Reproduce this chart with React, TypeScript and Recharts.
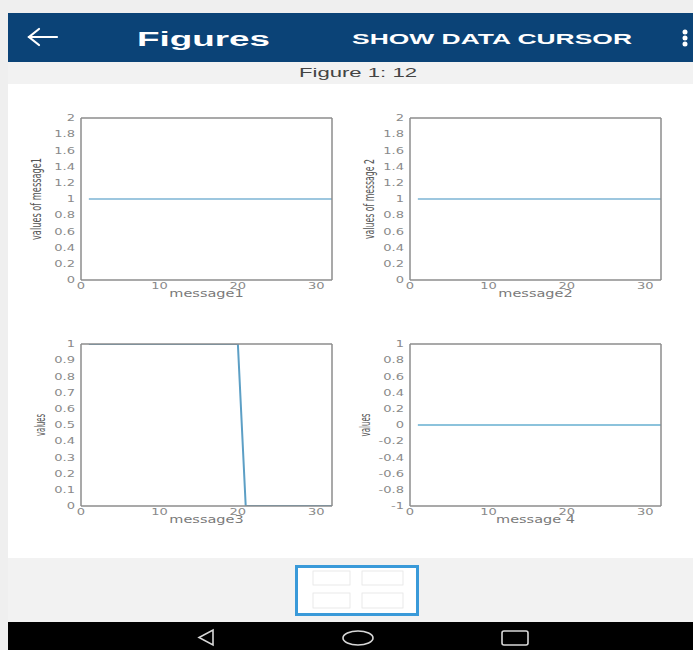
import React from "react";
import { LineChart, Line, XAxis, YAxis } from "recharts";

// sample index (x axis of every subplot)
const samples = [1, 2, 3, 4, 5, 6, 7, 8, 9, 10, 11, 12, 13, 14, 15, 16, 17, 18, 19, 20, 21, 22, 23, 24, 25, 26, 27, 28, 29, 30, 31, 32];

const message1 = [1, 1, 1, 1, 1, 1, 1, 1, 1, 1, 1, 1, 1, 1, 1, 1, 1, 1, 1, 1, 1, 1, 1, 1, 1, 1, 1, 1, 1, 1, 1, 1];
const message2 = [1, 1, 1, 1, 1, 1, 1, 1, 1, 1, 1, 1, 1, 1, 1, 1, 1, 1, 1, 1, 1, 1, 1, 1, 1, 1, 1, 1, 1, 1, 1, 1];
const message3 = [1, 1, 1, 1, 1, 1, 1, 1, 1, 1, 1, 1, 1, 1, 1, 1, 1, 1, 1, 1, 0, 0, 0, 0, 0, 0, 0, 0, 0, 0, 0, 0];
const message4 = [0, 0, 0, 0, 0, 0, 0, 0, 0, 0, 0, 0, 0, 0, 0, 0, 0, 0, 0, 0, 0, 0, 0, 0, 0, 0, 0, 0, 0, 0, 0, 0];

const xTicks = [0, 10, 20, 30];
const ticks0to2 = [0, 0.2, 0.4, 0.6, 0.8, 1, 1.2, 1.4, 1.6, 1.8, 2];
const ticks0to1 = [0, 0.1, 0.2, 0.3, 0.4, 0.5, 0.6, 0.7, 0.8, 0.9, 1];
const ticksMinus1to1 = [-1, -0.8, -0.6, -0.4, -0.2, 0, 0.2, 0.4, 0.6, 0.8, 1];

const PLOT_W = 251;
const PLOT_H = 162;
const AXIS = "#8c8c8c";
const TICK_TEXT = "#8a8a8a";
const FONT = "DejaVu Sans";

function XTick(props: any) {
  const { x, y, payload } = props;
  return (
    <text transform={`translate(${x},${y}) scale(1.45,1)`} textAnchor="middle" dy="0.71em" fontSize={9} fill={TICK_TEXT} fontFamily={FONT}>
      {payload.value}
    </text>
  );
}

function YTick(props: any) {
  const { x, y, payload } = props;
  return (
    <text transform={`translate(${x},${y}) scale(1.45,1)`} textAnchor="end" dy="0.35em" fontSize={9} fill={TICK_TEXT} fontFamily={FONT}>
      {payload.value}
    </text>
  );
}

interface SubplotProps {
  values: number[];
  left: number;
  top: number;
  yDomain: [number, number];
  yTicks: number[];
  yLabel: string;
  yLabelLen: number;
  yLabelX: number;
  xLabel: string;
  color: string;
  lineWidth: number;
}

function Subplot({ values, left, top, yDomain, yTicks, yLabel, yLabelLen, yLabelX, xLabel, color, lineWidth }: SubplotProps) {
  const data = samples.map((x, i) => ({ x, v: values[i] }));
  // inward tick marks + box edges (MATLAB style), drawn by mirrored axes
  const inner = { type: "number" as const, allowDataOverflow: true, tick: false as const, tickSize: 4, interval: 0 as const, stroke: AXIS };
  return (
    <div style={{ position: "absolute", left: left - 60, top: top - 10 }}>
      <LineChart width={60 + PLOT_W + 10} height={10 + PLOT_H + 30} data={data} margin={{ top: 10, right: 10, bottom: 0, left: 0 }}>
        <XAxis
          xAxisId="b"
          dataKey="x"
          type="number"
          domain={[0, 32]}
          ticks={xTicks}
          interval={0}
          allowDataOverflow
          height={30}
          tickLine={false}
          tickSize={0}
          tickMargin={3}
          tick={<XTick />}
          axisLine={{ stroke: AXIS, strokeWidth: 1.5 }}
          label={{
            content: (p: any) => (
              <text
                transform={`translate(${p.viewBox.x + p.viewBox.width / 2},${p.viewBox.y + 17}) scale(1.45,1)`}
                textAnchor="middle"
                fontSize={10}
                fill="#7a7a7a"
                fontFamily={FONT}
              >
                {xLabel}
              </text>
            ),
          }}
        />
        <XAxis xAxisId="bi" {...inner} domain={[0, 32]} ticks={xTicks} orientation="bottom" mirror height={1} axisLine={false} />
        <XAxis xAxisId="t" {...inner} domain={[0, 32]} ticks={xTicks} orientation="top" mirror height={1} axisLine={{ stroke: AXIS, strokeWidth: 1.5 }} />
        <YAxis
          yAxisId="l"
          type="number"
          domain={yDomain}
          ticks={yTicks}
          interval={0}
          allowDataOverflow
          width={60}
          tickLine={false}
          tickSize={0}
          tickMargin={6}
          tick={<YTick />}
          axisLine={{ stroke: AXIS, strokeWidth: 1.5 }}
          label={{
            content: (p: any) => {
              const cy = p.viewBox.y + p.viewBox.height / 2;
              return (
                <text
                  x={yLabelX}
                  y={cy}
                  transform={`rotate(-90, ${yLabelX}, ${cy})`}
                  textAnchor="middle"
                  fontSize={14}
                  fill="#555"
                  fontFamily={FONT}
                  textLength={yLabelLen}
                  lengthAdjust="spacingAndGlyphs"
                >
                  {yLabel}
                </text>
              );
            },
          }}
        />
        <YAxis yAxisId="li" {...inner} domain={yDomain} ticks={yTicks} orientation="left" mirror width={1} axisLine={false} />
        <YAxis yAxisId="r" {...inner} domain={yDomain} ticks={yTicks} orientation="right" mirror width={1} axisLine={{ stroke: AXIS, strokeWidth: 1.5 }} />
        <Line
          xAxisId="b"
          yAxisId="l"
          dataKey="v"
          type="linear"
          stroke={color}
          strokeWidth={lineWidth}
          dot={false}
          isAnimationActive={false}
        />
      </LineChart>
    </div>
  );
}

function Chrome() {
  return (
    <svg width={693} height={650} style={{ position: "absolute", left: 0, top: 0 }}>
      <rect x={0} y={0} width={693} height={650} fill="#efefef" />
      <rect x={8} y={13} width={685} height={49} fill="#0b4377" />
      <rect x={8} y={62} width={685} height={22} fill="#f2f2f2" />
      <rect x={8} y={84} width={685} height={474} fill="#ffffff" />
      <rect x={8} y={558} width={685} height={64} fill="#f2f2f2" />
      <rect x={8} y={622} width={685} height={28} fill="#000000" />

      {/* back arrow */}
      <g stroke="#fff" strokeWidth={2.2} strokeLinecap="round" fill="none">
        <line x1={29} y1={37} x2={57} y2={37} />
        <polyline points="39,29 29,37 39,45" />
      </g>
      <text x={137} y={46} fontSize={20} fontWeight="bold" fill="#fff" fontFamily="Liberation Sans" textLength={133} lengthAdjust="spacingAndGlyphs">
        Figures
      </text>
      <text x={352} y={44} fontSize={14} fontWeight="bold" fill="#fff" fontFamily="Liberation Sans" textLength={280} lengthAdjust="spacingAndGlyphs">
        SHOW DATA CURSOR
      </text>
      <circle cx={685} cy={32} r={2.5} fill="#fff" />
      <circle cx={685} cy={38} r={2.5} fill="#fff" />
      <circle cx={685} cy={44} r={2.5} fill="#fff" />

      <text x={358} y={77} textAnchor="middle" fontSize={12} fill="#444" fontFamily="Liberation Sans" textLength={118} lengthAdjust="spacingAndGlyphs">
        Figure 1: 12
      </text>

      {/* thumbnail */}
      <rect x={296.5} y={566.5} width={121} height={48} fill="#fff" stroke="#3a9ad9" strokeWidth={3} />
      <g stroke="#e4e4e4" strokeWidth={0.8} fill="none">
        <rect x={313} y={571} width={37} height={14} />
        <rect x={362} y={571} width={41} height={14} />
        <rect x={313} y={593} width={37} height={15} />
        <rect x={362} y={593} width={41} height={15} />
      </g>

      {/* nav bar */}
      <g stroke="#d8d8d8" strokeWidth={1.6} fill="none">
        <polygon points="213,630 213,645 199,637.5" />
        <ellipse cx={358} cy={638} rx={15} ry={7} />
        <rect x={502} y={631} width={26} height={14} rx={2} />
      </g>
    </svg>
  );
}

export default function App() {
  return (
    <div style={{ position: "absolute", left: 0, top: 0, width: 693, height: 650, overflow: "hidden" }}>
      <Chrome />
      <Subplot values={message1} left={81} top={118} yDomain={[0, 2]} yTicks={ticks0to2} yLabel="values of message1" yLabelLen={82} yLabelX={20} xLabel="message1" color="#7db5d4" lineWidth={1.5} />
      <Subplot values={message2} left={410} top={118} yDomain={[0, 2]} yTicks={ticks0to2} yLabel="values of message 2" yLabelLen={80} yLabelX={24} xLabel="message2" color="#7db5d4" lineWidth={1.5} />
      <Subplot values={message3} left={81} top={344} yDomain={[0, 1]} yTicks={ticks0to1} yLabel="values" yLabelLen={22} yLabelX={24} xLabel="message3" color="#5c9fc5" lineWidth={2} />
      <Subplot values={message4} left={410} top={344} yDomain={[-1, 1]} yTicks={ticksMinus1to1} yLabel="values" yLabelLen={23} yLabelX={20} xLabel="message 4" color="#8cc3dc" lineWidth={2} />
    </div>
  );
}
